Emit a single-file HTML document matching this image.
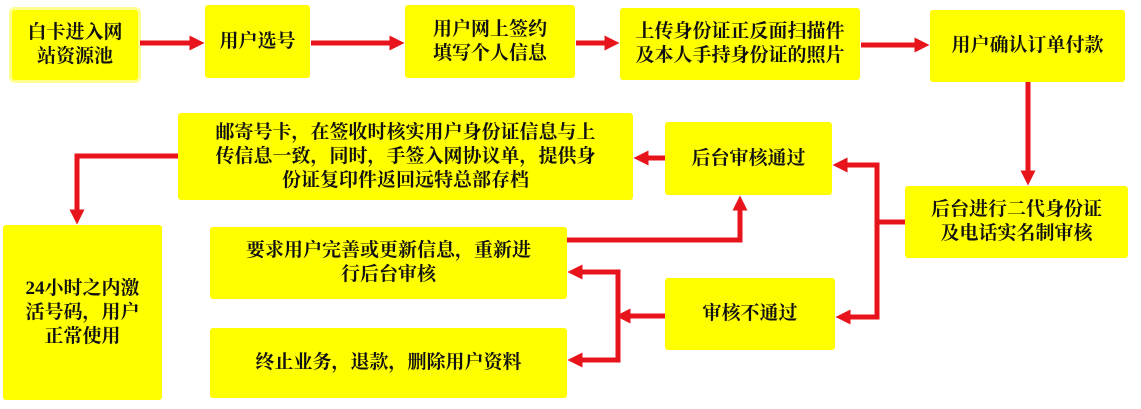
<!DOCTYPE html>
<html><head><meta charset="utf-8"><style>
body{margin:0;width:1141px;height:409px;background:#fff;position:relative;overflow:hidden;font-family:"Liberation Serif","Noto Serif CJK SC",serif;}
.b{position:absolute;background:#ffff00;border-radius:3px;display:flex;align-items:center;justify-content:center;text-align:center;font-size:19px;font-weight:bold;line-height:24px;color:#111;}
svg{position:absolute;left:0;top:0;}
</style></head><body>
<div class="b" style="left:12px;top:10px;width:126px;height:70px;box-shadow:0 0 0 3px #ffff90;">白卡进入网<br>站资源池</div>
<div class="b" style="left:205px;top:5px;width:105px;height:73px;">用户选号</div>
<div class="b" style="left:405px;top:5px;width:170px;height:73px;">用户网上签约<br>填写个人信息</div>
<div class="b" style="left:620px;top:8px;width:240px;height:72px;">上传身份证正反面扫描件<br>及本人手持身份证的照片</div>
<div class="b" style="left:930px;top:10px;width:195px;height:72px;">用户确认订单付款</div>
<div class="b" style="left:178px;top:113px;width:455px;height:87px;">邮寄号卡，在签收时核实用户身份证信息与上<br>传信息一致，同时，手签入网协议单，提供身<br>份证复印件返回远特总部存档</div>
<div class="b" style="left:665px;top:122px;width:167px;height:73px;">后台审核通过</div>
<div class="b" style="left:905px;top:186px;width:223px;height:72px;">后台进行二代身份证<br>及电话实名制审核</div>
<div class="b" style="left:665px;top:278px;width:170px;height:72px;">审核不通过</div>
<div class="b" style="left:210px;top:227px;width:357px;height:72px;">要求用户完善或更新信息，重新进<br>行后台审核</div>
<div class="b" style="left:210px;top:328px;width:357px;height:70px;">终止业务，退款，删除用户资料</div>
<div class="b" style="left:3px;top:225px;width:159px;height:175px;">24小时之内激<br>活号码，用户<br>正常使用</div>
<svg width="1141" height="409">
<defs><marker id="a" markerWidth="3" markerHeight="3" refX="1.5" refY="1.5" orient="auto" markerUnits="strokeWidth"><path d="M0,0 L3,1.5 L0,3 Z" fill="#e8141b"/></marker></defs>
<g stroke="#e8141b" stroke-width="5" fill="none" marker-end="url(#a)">
<path d="M140,43 H197"/>
<path d="M311,43 H397"/>
<path d="M576,43 H612"/>
<path d="M861,45 H922"/>
<path d="M1028,82 V178"/>
<path d="M905,222 H877 V165 H840"/>
<path d="M877,222 V317 H843"/>
<path d="M665,158 H641"/>
<path d="M178,156 H77 V217"/>
<path d="M567,240 H740 V203"/>
<path d="M665,316 H623"/>
<path d="M618,316 V272 H575"/>
<path d="M618,316 V360 H575"/>
</g>
</svg>
</body></html>
